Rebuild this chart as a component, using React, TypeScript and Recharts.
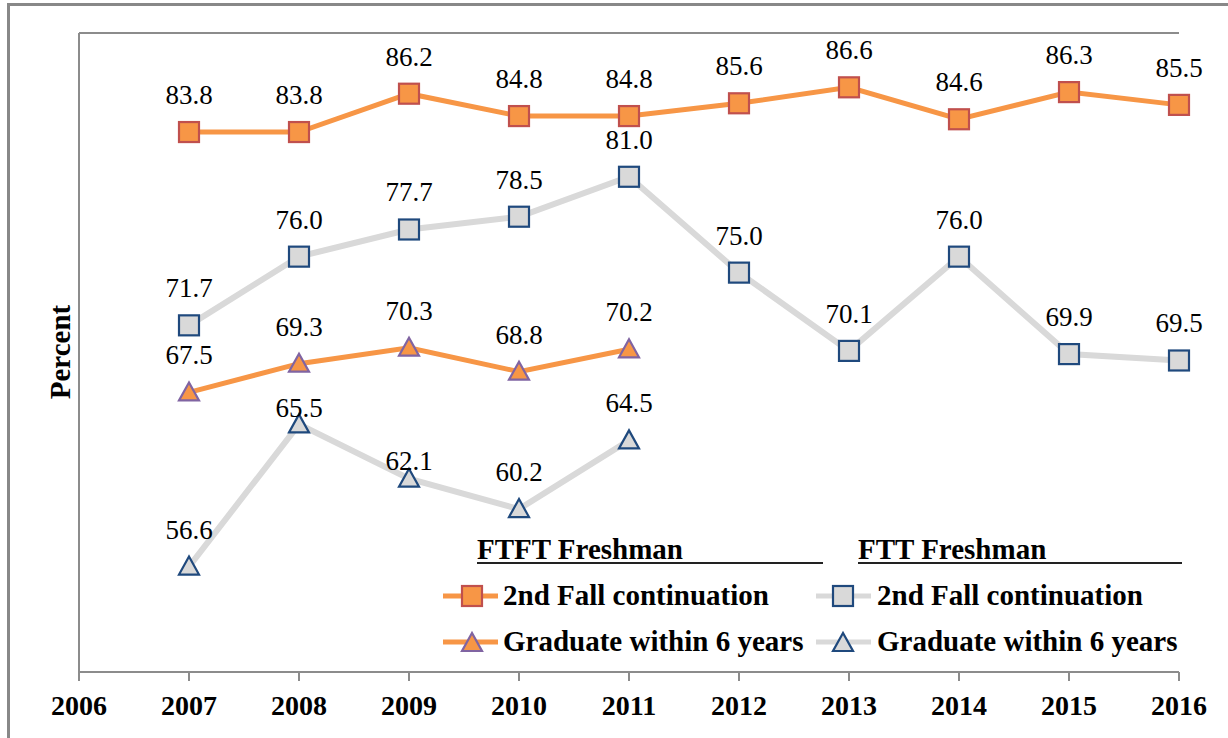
import React from 'react';
import { LineChart, Line, XAxis, YAxis, CartesianGrid, LabelList } from 'recharts';

const years = [2007, 2008, 2009, 2010, 2011, 2012, 2013, 2014, 2015, 2016];
const ftft2ndFall = [83.8, 83.8, 86.2, 84.8, 84.8, 85.6, 86.6, 84.6, 86.3, 85.5];
const ftt2ndFall = [71.7, 76.0, 77.7, 78.5, 81.0, 75.0, 70.1, 76.0, 69.9, 69.5];
const ftftGrad6 = [67.5, 69.3, 70.3, 68.8, 70.2];
const fttGrad6 = [56.6, 65.5, 62.1, 60.2, 64.5];
const xTicks = [2006, 2007, 2008, 2009, 2010, 2011, 2012, 2013, 2014, 2015, 2016];
const yTicks = [50, 55, 60, 65, 70, 75, 80, 85, 90];

const groupTitles = ['FTFT Freshman', 'FTT Freshman'];
const seriesNames = ['2nd Fall continuation', 'Graduate within 6 years'];

const data = years.map((year, i) => ({
  year,
  ftft2nd: ftft2ndFall[i],
  ftt2nd: ftt2ndFall[i],
  ftftGrad: i < ftftGrad6.length ? ftftGrad6[i] : null,
  fttGrad: i < fttGrad6.length ? fttGrad6[i] : null,
}));

const FONT = '"Liberation Serif", "Times New Roman", serif';
const GRID = '#8c8c8c';
const ORANGE = '#F79646';
const ORANGE_EDGE = '#C0504D';
const PURPLE = '#8064A2';
const GRAY = '#D9D9D9';
const NAVY = '#1F497D';

function Square({ cx, cy, fill, stroke }: any) {
  return <rect x={cx - 10} y={cy - 10} width={20} height={20} fill={fill} stroke={stroke} strokeWidth={2.2} />;
}
function Triangle({ cx, cy, fill, stroke }: any) {
  const pts = `${cx},${cy - 10} ${cx - 10},${cy + 8} ${cx + 10},${cy + 8}`;
  return <polygon points={pts} fill={fill} stroke={stroke} strokeWidth={2.2} strokeLinejoin="miter" />;
}

const dotRenderer = (shape: 'square' | 'triangle', fill: string, stroke: string) => (props: any) => {
  const { cx, cy, index, value } = props;
  if (cx == null || cy == null || value == null || Number.isNaN(cy)) return <g key={`d-${index}`} />;
  return shape === 'square' ? (
    <Square key={`d-${index}`} cx={cx} cy={cy} fill={fill} stroke={stroke} />
  ) : (
    <Triangle key={`d-${index}`} cx={cx} cy={cy} fill={fill} stroke={stroke} />
  );
};

const labelRenderer = (offsets?: Record<number, number>) => (props: any) => {
  const { x, y, value, index } = props;
  if (value == null || y == null || x == null) return null;
  const dy = offsets && offsets[index] != null ? offsets[index] : -37;
  return (
    <text x={x} y={y + dy + 9} textAnchor="middle" fontSize={27} fontFamily={FONT} fill="#000">
      {Number(value).toFixed(1)}
    </text>
  );
};

const fttGradLabelNudges: Record<number, number> = { 1: -16, 2: -18 };

function LegendOverlay() {
  const cols = [
    { x0: 443, x1: 498, mk: 472, tx: 503, hx: 477, hEnd: 823, line: ORANGE, fill: ORANGE, sq: ORANGE_EDGE, tri: PURPLE },
    { x0: 816, x1: 871, mk: 843, tx: 877, hx: 858, hEnd: 1182, line: GRAY, fill: GRAY, sq: NAVY, tri: NAVY },
  ];
  const rows = [596, 642];
  return (
    <svg width={1228} height={738} style={{ position: 'absolute', left: 0, top: 0, pointerEvents: 'none' }}>
      <text transform="translate(70,352) rotate(-90)" textAnchor="middle" fontSize={29} fontWeight="bold" fontFamily={FONT} fill="#000">
        Percent
      </text>
      {cols.map((c, ci) => (
        <g key={ci}>
          <text x={c.hx} y={559} fontSize={29} fontWeight="bold" fontFamily={FONT} fill="#000">{groupTitles[ci]}</text>
          <line x1={c.hx} x2={c.hEnd} y1={563} y2={563} stroke="#222" strokeWidth={2} />
          {rows.map((ry, ri) => (
            <g key={ri}>
              <line x1={c.x0} x2={c.x1} y1={ry} y2={ry} stroke={c.line} strokeWidth={5} />
              {ri === 0 ? (
                <Square cx={c.mk} cy={ry} fill={c.fill} stroke={c.sq} />
              ) : (
                <Triangle cx={c.mk} cy={ry + 1} fill={c.fill} stroke={c.tri} />
              )}
              <text x={c.tx} y={ry + 9} fontSize={29} fontWeight="bold" fontFamily={FONT} fill="#000">{seriesNames[ri]}</text>
            </g>
          ))}
        </g>
      ))}
    </svg>
  );
}

export default function App() {
  return (
    <div style={{ position: 'absolute', left: 0, top: 0, width: 1228, height: 738, background: '#fff', overflow: 'hidden' }}>
      <div style={{ position: 'absolute', left: 7, top: 3, width: 1300, height: 800, borderLeft: '3px solid #888', borderTop: '3px solid #888' }} />
      <div style={{ position: 'absolute', left: 0, top: 0 }}>
        <LineChart width={1228} height={738} data={data} margin={{ top: 33, right: 49, bottom: 16, left: 49 }}>
          <CartesianGrid vertical={false} stroke={GRID} strokeWidth={2} />
          <XAxis
            dataKey="year"
            type="number"
            domain={[2006, 2016]}
            ticks={xTicks}
            allowDecimals={false}
            height={50}
            tickSize={9}
            tickMargin={14}
            axisLine={{ stroke: GRID, strokeWidth: 2 }}
            tickLine={{ stroke: GRID, strokeWidth: 2 }}
            tick={{ fontSize: 28, fontWeight: 'bold', fill: '#000', fontFamily: FONT }}
          />
          <YAxis
            type="number"
            domain={[50, 90]}
            ticks={yTicks}
            width={30}
            tickSize={8}
            tick={false}
            axisLine={{ stroke: GRID, strokeWidth: 2 }}
            tickLine={{ stroke: GRID, strokeWidth: 2 }}
          />
          <Line
            dataKey="ftt2nd"
            stroke={GRAY}
            strokeWidth={6}
            isAnimationActive={false}
            dot={dotRenderer('square', GRAY, NAVY)}
            activeDot={false}
          >
            <LabelList dataKey="ftt2nd" content={labelRenderer()} />
          </Line>
          <Line
            dataKey="fttGrad"
            stroke={GRAY}
            strokeWidth={6}
            isAnimationActive={false}
            dot={dotRenderer('triangle', GRAY, NAVY)}
            activeDot={false}
          >
            <LabelList dataKey="fttGrad" content={labelRenderer(fttGradLabelNudges)} />
          </Line>
          <Line
            dataKey="ftftGrad"
            stroke={ORANGE}
            strokeWidth={5}
            isAnimationActive={false}
            dot={dotRenderer('triangle', ORANGE, PURPLE)}
            activeDot={false}
          >
            <LabelList dataKey="ftftGrad" content={labelRenderer()} />
          </Line>
          <Line
            dataKey="ftft2nd"
            stroke={ORANGE}
            strokeWidth={5}
            isAnimationActive={false}
            dot={dotRenderer('square', ORANGE, ORANGE_EDGE)}
            activeDot={false}
          >
            <LabelList dataKey="ftft2nd" content={labelRenderer()} />
          </Line>
        </LineChart>
      </div>
      <LegendOverlay />
    </div>
  );
}
